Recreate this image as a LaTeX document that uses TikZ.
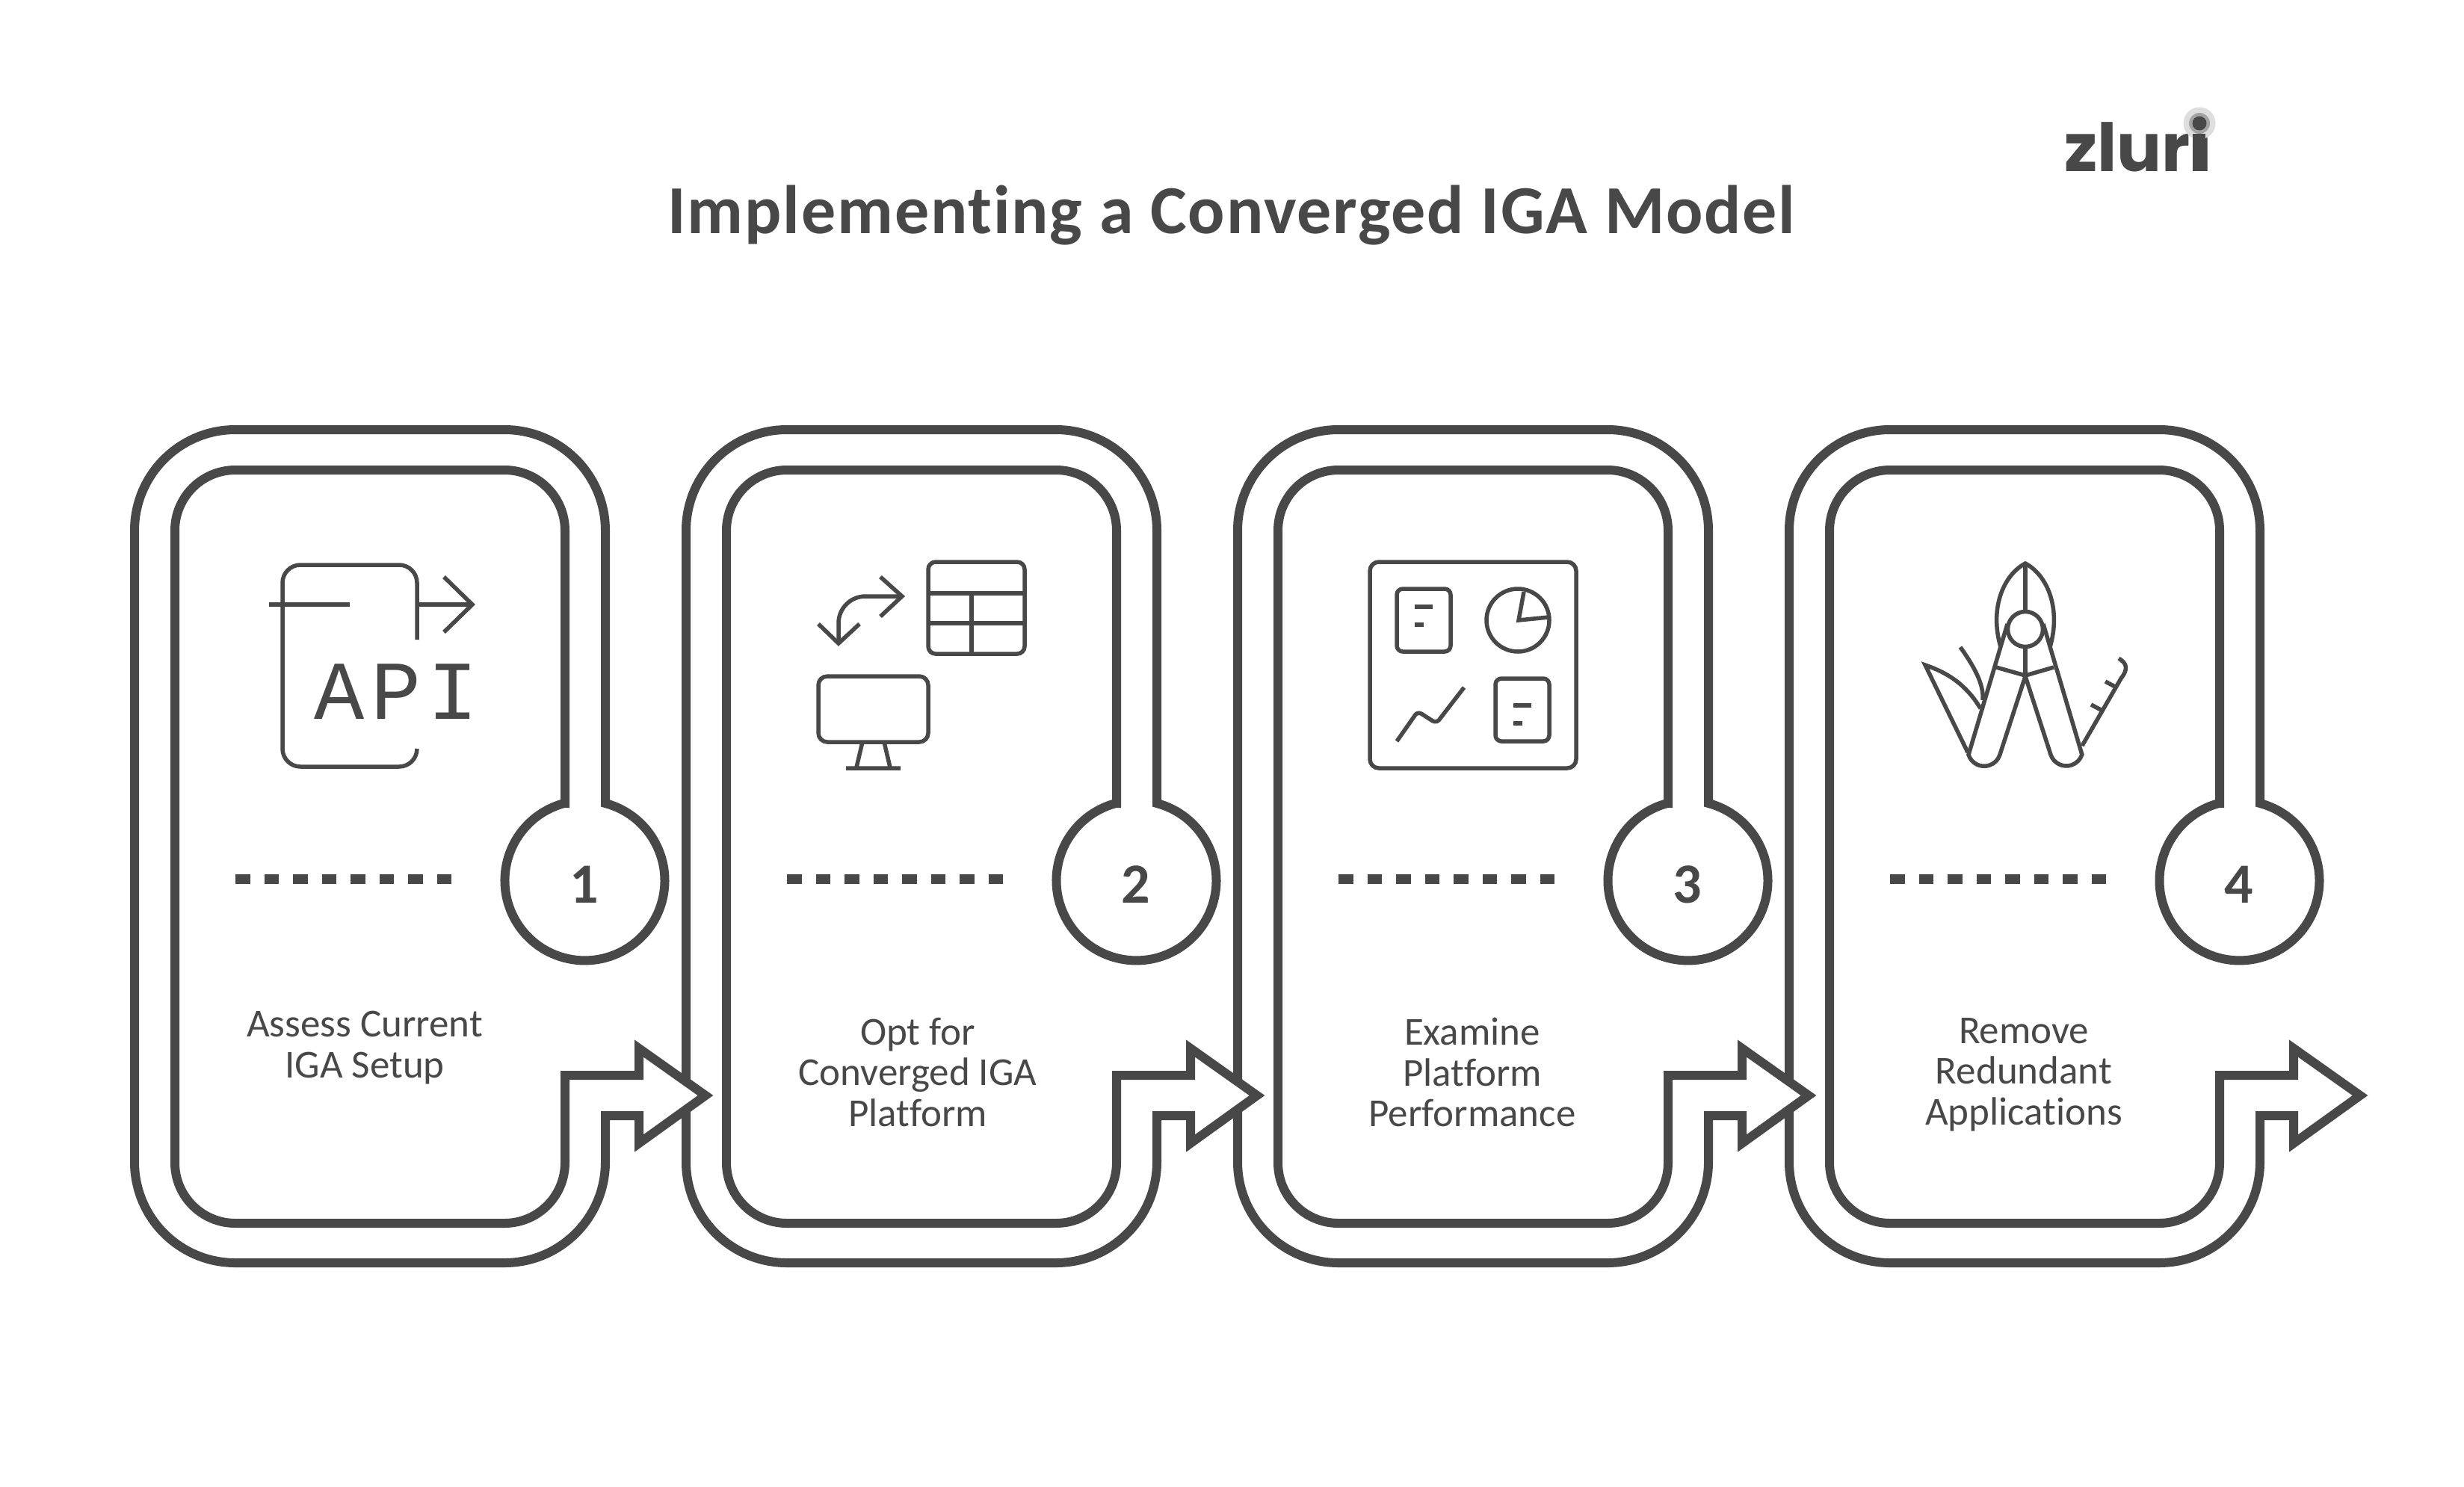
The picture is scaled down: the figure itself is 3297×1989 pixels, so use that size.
\documentclass[tikz,border=0pt]{standalone}
\usepackage{fontspec}
\setmainfont[Ligatures=NoCommon]{Carlito}
\newfontfamily\titlefont[Ligatures=NoCommon,LetterSpace=2]{Carlito}
\newfontfamily\logofont{Poppins}
\newfontfamily\apifont[LetterSpace=7.8]{Liberation Mono}
\definecolor{ink}{HTML}{484848}
\tikzset{
  panelshape/.style={draw=ink,fill=white,line width=12pt,miter limit=10},
  iconline/.style={draw=ink,line width=5.5pt},
  dashrow/.style={draw=ink,line width=13pt,dash pattern=on 19.5pt off 19pt},
  bodytext/.style={text=ink,align=center,font=\fontsize{53}{54.5}\selectfont,inner sep=0pt},
  numtext/.style={text=ink,font=\fontsize{76}{76}\selectfont\bfseries,inner sep=0pt},
  titletext/.style={text=ink,font=\titlefont\fontsize{92}{92}\selectfont\bfseries,inner sep=0pt},
}
\begin{document}
\begin{tikzpicture}[x=1pt,y=-1pt]
\useasboundingbox (0,0) rectangle (3297,1989);
\fill[white] (0,0) rectangle (3297,1989);
% title and logo
\node[titletext,anchor=base] (title) at (1648,312) {Implementing a Converged IGA Model};
\node[text=ink,anchor=base west,inner sep=0pt,font=\logofont\bfseries\fontsize{89}{89}\selectfont] (logo) at (2762,229) {zlur\kern3pt i};
\fill[fill=black!13] (2943,165) circle[radius=21.5pt];
\fill[fill=black!36] (2943,165) circle[radius=14pt];
\fill[ink] (2943,165) circle[radius=9.5pt];
\fill[ink] (2934,179) rectangle (2951,229);
% panels, right to left so that each arrow lies over the next panel
\foreach \i/\n in {3/4,2/3,1/2,0/1}{
\begin{scope}[shift={({\i*738},0)}]
\draw[panelshape] (756,1075) -- (756,710)
  arc[start angle=0,end angle=90,radius=81pt] -- (315,629)
  arc[start angle=90,end angle=180,radius=81pt] -- (234,1556)
  arc[start angle=180,end angle=270,radius=81pt] -- (675,1637)
  arc[start angle=270,end angle=360,radius=81pt] -- (756,1439) -- (855,1439) -- (855,1403)
  -- (944,1466) -- (855,1530) -- (855,1493) -- (810,1493) -- (810,1555)
  arc[start angle=0,end angle=-90,radius=135pt] -- (315,1690)
  arc[start angle=-90,end angle=-180,radius=135pt] -- (180,710)
  arc[start angle=180,end angle=90,radius=135pt] -- (675,575)
  arc[start angle=90,end angle=0,radius=135pt] -- (810,1075)
  arc[start angle=75.1,end angle=-255.1,radius=107pt] -- cycle;
\draw[dashrow] (315,1176.5) -- (604,1176.5);
\node[numtext] (num\n) at (782,1184) {\n};
\end{scope}
}
% step texts
\node[bodytext] (t1) at (488,1402) {Assess Current\\IGA Setup};
\node[bodytext] (t2) at (1228,1435) {Opt for\\Converged IGA\\Platform};
\node[bodytext] (t3) at (1970,1435) {Examine\\Platform\\Performance};
\node[bodytext] (t4) at (2708,1438) {Remove\\Redundant\\Applications};
% icon 1
\draw[iconline] (558,856) -- (558,780) arc[start angle=0,end angle=90,radius=24pt] -- (402,756)
  arc[start angle=90,end angle=180,radius=24pt] -- (378,1002)
  arc[start angle=180,end angle=270,radius=24pt] -- (534,1026)
  arc[start angle=270,end angle=360,radius=24pt];
\draw[iconline] (360,809) -- (468,809);
\draw[iconline] (558,809) -- (630,809);
\draw[iconline] (594,772) -- (632,809) -- (594,846);
\node[text=ink,inner sep=0pt,font=\apifont\fontsize{112}{112}\selectfont] (api) at (530,926) {API};
% icon 2
\draw[iconline] (1122,861) -- (1122,834) arc[start angle=180,end angle=90,radius=36pt] -- (1205,798);
\draw[iconline] (1178,772) -- (1207,798) -- (1178,825);
\draw[iconline] (1095,835) -- (1122,861) -- (1150,835);
\draw[iconline,rounded corners=10pt] (1242,752) rectangle (1371,875);
\draw[iconline] (1242,794) -- (1371,794) (1242,834) -- (1371,834) (1300,794) -- (1300,875);
\draw[iconline,rounded corners=12pt] (1095,905) rectangle (1242,993);
\draw[iconline] (1154,993) -- (1146,1027) (1183,993) -- (1191,1027) (1132,1028) -- (1205,1028);
% icon 3
\draw[iconline,rounded corners=12pt] (1833,752) rectangle (2109,1028);
\draw[iconline,rounded corners=8pt] (1869,788) rectangle (1941,872);
\draw[iconline] (1893,812) -- (1917,812) (1893,836) -- (1905,836);
\draw[iconline] (2031,830) circle[radius=42pt];
\draw[iconline] (2039,792) -- (2032,830) -- (2072,826);
\draw[iconline,rounded corners=6pt] (1869,992) -- (1897,952) -- (1922,968) -- (1959,920);
\draw[iconline,rounded corners=8pt] (2001,908) rectangle (2073,992);
\draw[iconline] (2025,944) -- (2049,944) (2025,968) -- (2037,968);
% icon 4
\draw[iconline] (2677,866) .. controls (2662,815) and (2680,770) .. (2710,754) .. controls (2740,770) and (2758,815) .. (2743,866);
\draw[iconline] (2710,754) -- (2710,818);
\draw[iconline] (2710,842) circle[radius=23.5pt];
\draw[iconline] (2710,865) -- (2710,905);
\draw[iconline] (2686,835) -- (2634,1010) arc[start angle=197.7,end angle=341.5,radius=22pt] -- (2710,905) -- (2744,1010)
  arc[start angle=198.5,end angle=342.3,radius=22pt] -- (2734,835);
\draw[iconline] (2671,893) -- (2710,904) -- (2748,893);
\draw[iconline] (2650,948) .. controls (2630,915) and (2605,900) .. (2576,890) -- (2633,1007);
\draw[iconline] (2623,866) .. controls (2640,890) and (2655,915) .. (2653,937);
\draw[iconline] (2786,998) -- (2838,908) .. controls (2848,895) and (2846,888) .. (2835,881);
\draw[iconline] (2817,912) -- (2832,920) (2798,943) -- (2813,951);
\end{tikzpicture}
\end{document}
